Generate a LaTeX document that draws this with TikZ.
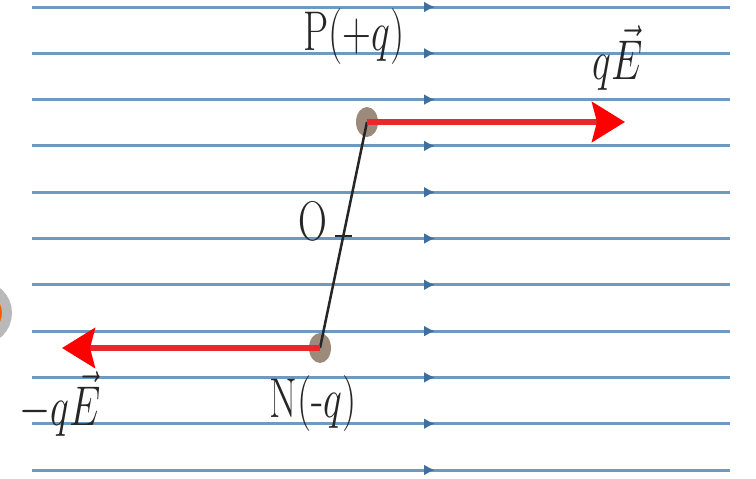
\RequirePackage{fix-cm}
\documentclass[tikz,border=0pt]{standalone}
\usepackage{graphicx}
\usetikzlibrary{arrows.meta,calc}

\definecolor{fieldblue}{HTML}{6E9AC2}
\definecolor{fieldtipblue}{HTML}{3F6F9E}
\definecolor{forcered}{HTML}{E8282D}
\definecolor{chargebrown}{HTML}{9C8B7B}
\definecolor{labelgray}{HTML}{262626}

\tikzset{
  fieldline/.style={line width=3pt, color=fieldblue},
  fieldtip/.style={fieldline, -{Latex[length=11pt,width=11pt,color=fieldtipblue]}},
  force/.style={line width=6pt, color=forcered, -{Stealth[length=33pt,width=40pt,inset=5pt,color=red]}},
  lbl/.style={text=labelgray, font=\fontsize{40}{48}\selectfont, inner sep=0pt},
}
\newcommand{\tallbox}[1]{\scalebox{1}[1.4]{#1}}

\begin{document}
\begin{tikzpicture}[x=1pt,y=-1pt]
            \fill[white] (0,0) rectangle (756,479);
            \useasboundingbox (0,0) rectangle (756,479);
            % piece of the neighbouring figure at the left edge
            \begin{scope}
                \clip (0,0) rectangle (756,479);
                \draw[line width=10pt, gray!55, fill=orange!70!red] (-20,313) circle (27);
            \end{scope}
            % uniform field
            \foreach \i in {0,...,10} {
                \draw[fieldline] (32,7+46.3*\i) -- (730,7+46.3*\i);
                \draw[fieldtip] (380,7+46.3*\i) -- (435,7+46.3*\i);
            }
            % dipole
            \coordinate (P) at (367,122);
            \coordinate (N) at (320,348);
            \coordinate (O) at ($(P)!0.5!(N)$);
            \coordinate (Ftip) at (625,122);
            \coordinate (Gtip) at (62,348);
            \fill[chargebrown] (P) ellipse [x radius=11, y radius=15];
            \fill[chargebrown] (N) ellipse [x radius=11, y radius=15];
            \draw[labelgray, line width=2.5pt] (P) -- (N);
            \draw[labelgray, line width=1.5pt] ($(O)+(-9,1)$) -- ($(O)+(8,1)$);
            \draw[force] (P) -- (Ftip);
            \draw[force] (N) -- (Gtip);
            % labels
            \node[lbl] (Plabel) at (354,37) {\tallbox{P($+q$)}};
            \node[lbl] (Nlabel) at (313,404) {\tallbox{N(-$q$)}};
            \node[lbl] (Olabel) at (313,221) {\tallbox{O}};
            \node[lbl] (Flabel) at (618,58) {\tallbox{$q\vec{E}$}};
            \node[lbl] (Glabel) at (60,404) {\tallbox{$-q\vec{E}$}};
        \end{tikzpicture}
\end{document}
